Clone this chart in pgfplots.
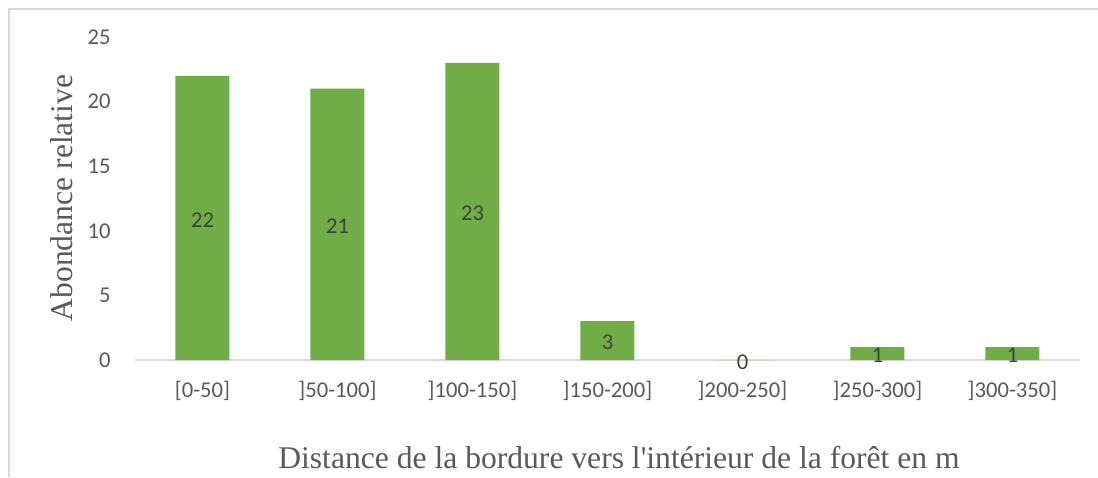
\documentclass[border=0pt]{standalone}
\usepackage{pgfplots}
\pgfplotsset{compat=1.18}
\usepackage{fontspec}
\setmainfont{Liberation Serif}
\newfontfamily\calibri{Carlito}
\definecolor{bargreen}{HTML}{70AD47}
\definecolor{framegray}{HTML}{D9D9D9}
\definecolor{ticktext}{HTML}{595959}
\definecolor{labeltext}{HTML}{404040}
\begin{document}
\begin{tikzpicture}[x=1pt,y=1pt]
\useasboundingbox (0,0) rectangle (549,238.5);
\draw[color=framegray, line width=0.75pt] (4.5,0) -- (4.5,234) -- (549,234);
\begin{axis}[
  at={(67.5pt,58.5pt)}, anchor=south west,
  scale only axis, width=472.5pt, height=161.5pt,
  xmin=-0.5, xmax=6.5, ymin=0, ymax=25,
  ytick={0,5,10,15,20,25},
  xtick={0,1,2,3,4,5,6},
  xticklabels={{[0-50]},{]50-100]},{]100-150]},{]150-200]},{]200-250]},{]250-300]},{]300-350]}},
  axis lines=left,
  y axis line style={draw=none},
  x axis line style={draw=framegray, line width=0.75pt, -},
  major tick length=0pt,
  tick style={draw=none},
  /pgf/number format/assume math mode=true,
  tick label style={font=\calibri\fontsize{11.3}{13}\selectfont, text=ticktext, inner sep=0pt},
  yticklabel style={anchor=east, xshift=-12pt},
  xticklabel style={anchor=north, yshift=-10.5pt},
  clip=false,
]
\addplot[ybar, bar width=27pt, fill=bargreen, draw=none]
  coordinates {(0,22) (1,21) (2,23) (3,3) (4,0) (5,1) (6,1)};
\addplot[draw=none, mark=none, nodes near coords, point meta=explicit symbolic,
  every node near coord/.style={anchor=center, inner sep=0pt, yshift=-1pt, font=\calibri\fontsize{11.3}{13}\selectfont, text=labeltext}]
  coordinates {(0,11) [22] (1,10.5) [21] (2,11.5) [23] (3,1.5) [3] (4,0) [0] (5,0.5) [1] (6,0.5) [1]};
\end{axis}
\node[rotate=90, text=ticktext, font=\fontsize{15.8}{18}\selectfont, inner sep=0pt] at (31,139.5) {Abondance relative};
\node[text=ticktext, font=\fontsize{15.8}{18}\selectfont, inner sep=0pt] at (309.5,9.5) {Distance de la bordure vers l\textquotesingle int\'erieur de la for\^et en m};
\end{tikzpicture}
\end{document}
